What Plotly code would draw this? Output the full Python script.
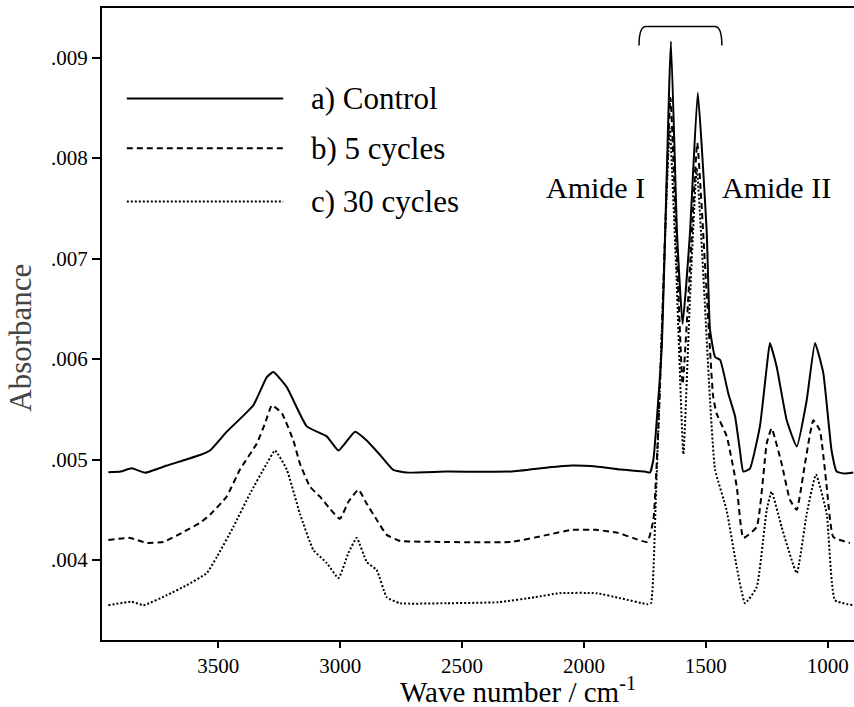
import plotly.graph_objects as go

# ---------------- data ----------------
wave_a = [3951, 3900, 3855, 3800, 3711, 3575, 3534, 3465, 3356, 3301, 3274, 3219, 3137,
          3055, 3007, 2939, 2891, 2836, 2782, 2727, 2563, 2300, 2150, 2050, 1950, 1850,
          1750, 1729, 1715, 1681, 1643, 1618, 1595, 1565, 1533, 1496, 1483, 1462, 1441,
          1408, 1380, 1360, 1346, 1319, 1278, 1250, 1237, 1209, 1168, 1127, 1086, 1052,
          1018, 984, 963, 930, 895]
abs_a = [0.004873, 0.004880, 0.004912, 0.004869, 0.004940, 0.005045, 0.005090, 0.005277,
         0.005540, 0.005820, 0.005870, 0.005720, 0.005330, 0.005230, 0.005090, 0.005277,
         0.005190, 0.005045, 0.004896, 0.004870, 0.004880, 0.004880, 0.004920, 0.004940,
         0.004930, 0.004900, 0.004880, 0.004870, 0.005000, 0.006100, 0.009160, 0.007250,
         0.006350, 0.007250, 0.008650, 0.007250, 0.006300, 0.006020, 0.005990, 0.005660,
         0.005430, 0.005090, 0.004880, 0.004910, 0.005330, 0.005920, 0.006160, 0.005920,
         0.005390, 0.005130, 0.005590, 0.006160, 0.005860, 0.005090, 0.004880, 0.004860,
         0.004870]

wave_b = [3951, 3862, 3794, 3725, 3650, 3575, 3534, 3466, 3411, 3342, 3308, 3280, 3239,
          3192, 3165, 3124, 3083, 3042, 3001, 2966, 2925, 2891, 2850, 2809, 2754, 2590,
          2300, 2150, 2050, 1950, 1860, 1800, 1740, 1715, 1690, 1645, 1618, 1595, 1565,
          1535, 1500, 1483, 1470, 1456, 1414, 1373, 1346, 1291, 1250, 1230, 1189, 1155,
          1127, 1093, 1059, 1032, 1004, 977, 909]
abs_b = [0.004200, 0.004220, 0.004170, 0.004180, 0.004270, 0.004370, 0.004450, 0.004630,
         0.004900, 0.005160, 0.005360, 0.005540, 0.005460, 0.005190, 0.004960, 0.004730,
         0.004630, 0.004510, 0.004410, 0.004580, 0.004700, 0.004560, 0.004400, 0.004250,
         0.004190, 0.004180, 0.004180, 0.004250, 0.004300, 0.004300, 0.004270, 0.004220,
         0.004180, 0.004400, 0.005600, 0.008600, 0.007000, 0.005750, 0.006900, 0.008150,
         0.006800, 0.006100, 0.005630, 0.005460, 0.005230, 0.004730, 0.004220, 0.004330,
         0.005160, 0.005310, 0.004960, 0.004600, 0.004500, 0.004960, 0.005390, 0.005290,
         0.004730, 0.004230, 0.004170]

wave_c = [3951, 3855, 3807, 3711, 3629, 3547, 3506, 3438, 3370, 3301, 3267, 3219, 3165,
          3110, 3055, 3007, 2966, 2932, 2891, 2850, 2809, 2754, 2563, 2350, 2200, 2100,
          1950, 1850, 1740, 1725, 1705, 1680, 1648, 1620, 1592, 1565, 1537, 1505, 1483,
          1462, 1415, 1373, 1339, 1291, 1250, 1230, 1189, 1127, 1086, 1048, 1004, 970, 895]
abs_c = [0.003550, 0.003585, 0.003550, 0.003650, 0.003750, 0.003870, 0.004030, 0.004330,
         0.004660, 0.004960, 0.005090, 0.004900, 0.004460, 0.004100, 0.003970, 0.003820,
         0.004070, 0.004220, 0.003980, 0.003900, 0.003630, 0.003570, 0.003570, 0.003580,
         0.003630, 0.003670, 0.003670, 0.003620, 0.003560, 0.003570, 0.004600, 0.006300,
         0.008300, 0.006800, 0.005050, 0.006600, 0.007900, 0.006600, 0.005600, 0.004900,
         0.004500, 0.003930, 0.003570, 0.003730, 0.004500, 0.004680, 0.004330, 0.003870,
         0.004460, 0.004850, 0.004460, 0.003600, 0.003550]

series_names = ["a) Control", "b) 5 cycles", "c) 30 cycles"]
x_tick_vals = [3500, 3000, 2500, 2000, 1500, 1000]
y_tick_vals = [0.004, 0.005, 0.006, 0.007, 0.008, 0.009]
y_tick_text = [".004", ".005", ".006", ".007", ".008", ".009"]

FONT = "Liberation Serif, Times New Roman, serif"
dashes = ["solid", "6px,4px", "2px,2px"]

fig = go.Figure()
for wv, ab, name, dash in zip([wave_a, wave_b, wave_c], [abs_a, abs_b, abs_c],
                              series_names, dashes):
    fig.add_trace(go.Scatter(x=wv, y=ab, mode="lines", name=name,
                             line=dict(color="black", width=2, dash=dash,
                                       shape="spline", smoothing=0.4)))

# legend drawn manually (long line samples)
leg_y = [0.857, 0.778, 0.694]
for yy, name, dash in zip(leg_y, series_names, dashes):
    fig.add_shape(type="line", xref="paper", yref="paper", x0=0.033, x1=0.241,
                  y0=yy, y1=yy, line=dict(color="black", width=2, dash=dash))
    fig.add_annotation(xref="paper", yref="paper", x=0.275, y=yy, text=name,
                       showarrow=False, xanchor="left", yanchor="middle",
                       font=dict(family=FONT, size=31, color="black"))

# bracket over Amide bands
fig.add_shape(type="path", xref="x", yref="y",
              path="M 1774,0.00912 Q 1774,0.00931 1745,0.00931 L 1463,0.00931 Q 1434,0.00931 1434,0.00912",
              line=dict(color="black", width=1.5))

fig.add_annotation(x=1954, y=0.00771, text="Amide I", showarrow=False,
                   font=dict(family=FONT, size=30, color="black"))
fig.add_annotation(x=1208, y=0.00771, text="Amide II", showarrow=False,
                   font=dict(family=FONT, size=30, color="black"))

# axis titles as annotations (placed as in the reference)
fig.add_annotation(xref="paper", yref="paper", x=0.553, y=-0.079,
                   text="Wave number / cm<sup>-1</sup>", showarrow=False,
                   xanchor="center", yanchor="middle",
                   font=dict(family=FONT, size=29, color="black"))
fig.add_annotation(xref="paper", yref="paper", x=-0.108, y=0.478,
                   text="Absorbance", showarrow=False, textangle=-90,
                   xanchor="center", yanchor="middle",
                   font=dict(family=FONT, size=31, color="#444444"))

fig.update_xaxes(range=[3977, 892], tickvals=x_tick_vals, ticks="outside", ticklen=6,
                 tickwidth=2, tickcolor="black", showline=True, linewidth=2,
                 linecolor="black", mirror=True, showgrid=False, zeroline=False,
                 tickfont=dict(family=FONT, size=21, color="black"))
fig.update_yaxes(range=[0.003204, 0.009493], tickvals=y_tick_vals, ticktext=y_tick_text,
                 ticks="outside", ticklen=8, tickwidth=2, tickcolor="black",
                 showline=True, linewidth=2, linecolor="black", showgrid=False,
                 zeroline=False,
                 tickfont=dict(family=FONT, size=21, color="black"))

fig.update_layout(width=854, height=707, showlegend=False,
                  margin=dict(l=102, r=0, t=8, b=67),
                  paper_bgcolor="white", plot_bgcolor="white")

fig.write_html("out.html")
